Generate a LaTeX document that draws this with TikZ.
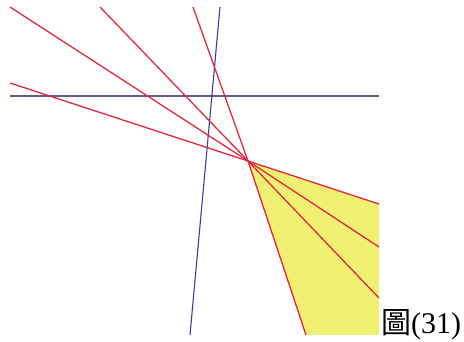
\documentclass[tikz,border=0pt]{standalone}
\usepackage{fontspec}
\setmainfont{Liberation Serif}
\newfontfamily\cjk{Noto Sans CJK TC}
\definecolor{linered}{RGB}{228,40,62}
\definecolor{lineblue}{RGB}{60,60,165}
\definecolor{axisblue}{RGB}{95,95,140}
\definecolor{fillyellow}{RGB}{240,240,115}

\begin{document}
\begin{tikzpicture}[x=1pt,y=-1pt,
  redline/.style={linered,line width=1.3pt},
  blueline/.style={lineblue,line width=1.1pt}]
\useasboundingbox (0,0) rectangle (464,342);

\coordinate (P) at (248,161);

% shaded sector
\fill[fillyellow] (P) -- (379,204) -- (379,335) -- (306,335) -- cycle;

% blue lines
\draw[axisblue,line width=1.3pt] (10,96) -- (379,96);
\draw[blueline] (220,7) -- (190,335);

% red lines through P
\coordinate (a1) at (193,7);   \coordinate (b1) at (306,335);
\coordinate (a2) at (100,7);   \coordinate (b2) at (379,298);
\coordinate (a3) at (10,7);    \coordinate (b3) at (379,247);
\coordinate (a4) at (10,83);   \coordinate (b4) at (379,204);
\foreach \i in {1,...,4}
  \draw[redline] (a\i) -- (P) -- (b\i);

\node[anchor=base west,inner sep=0pt,font=\fontsize{30}{32}\selectfont] (cap) at (381,334) {{\cjk 圖}(31)};
\end{tikzpicture}
\end{document}
